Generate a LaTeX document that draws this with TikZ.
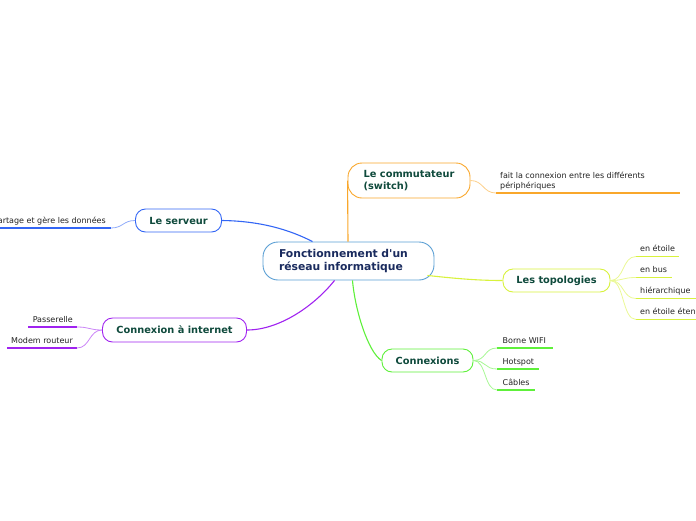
\documentclass[tikz,border=0pt]{standalone}
\usepackage{fontspec}
\setmainfont{DejaVu Sans}
\font\straightapos="DejaVu Sans/B" at 10.8pt
\usetikzlibrary{calc}
\definecolor{cc}{HTML}{5A9FD4}
\definecolor{corange}{HTML}{F9A72B}
\definecolor{cblue}{HTML}{3366F5}
\definecolor{cpurple}{HTML}{A022F0}
\definecolor{cyg}{HTML}{D8F23C}
\definecolor{cgreen}{HTML}{5EF03A}
\definecolor{tgreen}{HTML}{0F4A3C}
\definecolor{tnavy}{HTML}{1A2B5E}
\definecolor{tleaf}{HTML}{222222}
\tikzset{
  topic/.style={draw=#1, line width=0.9pt, rounded corners=10pt, fill=white,
    font=\bfseries\fontsize{9.8}{12}\selectfont, text=tgreen, align=left, inner sep=0pt},
  leaf/.style={font=\fontsize{8}{10}\selectfont, text=tleaf, inner xsep=4pt, inner ysep=4.5pt, text depth=0pt},
  uline/.style={draw=#1, line width=1.5pt},
  branch/.style={draw=#1, line width=1.1pt},
  twig/.style={draw=#1!55, line width=0.8pt},
}
\begin{document}
\begin{tikzpicture}[x=1pt,y=-1pt]
\useasboundingbox (0,0) rectangle (696,520);
% topics
\node[topic=cc, text width=139pt, inner xsep=16pt, minimum height=38pt, rounded corners=15pt,
  font=\bfseries\fontsize{10.8}{12.5}\selectfont, text=tnavy] (c) at (348.5,261) {Fonctionnement d{\straightapos '}un\\réseau informatique};
\node[topic=corange, minimum width=122pt, minimum height=35pt, rounded corners=14pt] (sw) at (409,180.5) {Le commutateur\\(switch)};
\node[topic=cblue, minimum width=86pt, minimum height=23pt] (sv) at (178.5,220.5) {Le serveur};
\node[topic=cpurple, minimum width=144pt, minimum height=24pt] (ci) at (174.5,330) {Connexion à internet};
\node[topic=cyg, minimum width=107pt, minimum height=23pt] (tp) at (556.5,280.5) {Les topologies};
\node[topic=cgreen, minimum width=91pt, minimum height=23pt] (cx) at (427.5,360.5) {Connexions};
% branches
\draw[branch=corange] ($(c.north)+(-0.5,0)$) -- (sw.west);
\draw[branch=cblue] (sv.east) .. controls (261,221) and (290,230) .. ($(c.north)+(-36,0)$);
\draw[branch=cpurple] (ci.east) .. controls (280,330) and (315,305) .. ($(c.south)+(-14,0)$);
\draw[branch=cgreen] ($(c.south)+(4,0)$) .. controls (355,310) and (368,352) .. (cx.west);
\draw[branch=cyg] ($(c.south east)+(-7,-5)$) .. controls (460,279) and (480,280.5) .. (tp.west);
% leaves: commutateur
\node[leaf, anchor=south west, align=left, inner ysep=2.6pt, text depth=] (l1) at (496,193) {fait la connexion entre les différents\\périphériques};
\draw[uline=corange] (l1.south west) -- ++(184,0);
\draw[twig=corange] (sw.east) .. controls +(13,0) and +(-13,0) .. (l1.south west);
% serveur
\node[leaf, anchor=south east, inner xsep=5pt] (l2) at (111,228) {partage et gère les données};
\draw[uline=cblue] (l2.south east) -- ++(-111,0);
\draw[twig=cblue] (sv.west) .. controls +(-12,0) and +(12,0) .. (l2.south east);
% internet
\node[leaf, anchor=south east] (l3) at (77,327) {Passerelle};
\node[leaf, anchor=south east] (l4) at (77,348) {Modem routeur};
\draw[uline=cpurple] (l3.south east) -- ++(-49,0);
\draw[uline=cpurple] (l4.south east) -- ++(-70,0);
\draw[twig=cpurple] (ci.west) .. controls +(-13,0) and +(13,0) .. (l3.south east);
\draw[twig=cpurple] (ci.west) .. controls +(-13,0) and +(13,0) .. (l4.south east);
% topologies
\node[leaf, anchor=south west] (t1) at (636,256.5) {en étoile};
\node[leaf, anchor=south west] (t2) at (636,277.5) {en bus};
\node[leaf, anchor=south west] (t3) at (636,298.5) {hiérarchique};
\node[leaf, anchor=south west] (t4) at (636,319.5) {en étoile étendue};
\draw[uline=cyg] (t1.south west) -- ++(43,0);
\draw[uline=cyg] (t2.south west) -- ++(36,0);
\draw[uline=cyg] (t3.south west) -- ++(60,0);
\draw[uline=cyg] (t4.south west) -- ++(60,0);
\foreach \t in {t1,t2,t3,t4}
  \draw[twig=cyg] (tp.east) .. controls +(14,0) and +(-14,0) .. (\t.south west);
% connexions
\node[leaf, anchor=south west, inner xsep=5.5pt] (k1) at (497,348) {Borne WIFI};
\node[leaf, anchor=south west, inner xsep=5.5pt] (k2) at (497,369) {Hotspot};
\node[leaf, anchor=south west, inner xsep=5.5pt] (k3) at (497,390) {Câbles};
\draw[uline=cgreen] (k1.south west) -- ++(56,0);
\draw[uline=cgreen] (k2.south west) -- ++(42,0);
\draw[uline=cgreen] (k3.south west) -- ++(38,0);
\foreach \k in {k1,k2,k3}
  \draw[twig=cgreen] (cx.east) .. controls +(13,0) and +(-13,0) .. (\k.south west);
\end{tikzpicture}
\end{document}
